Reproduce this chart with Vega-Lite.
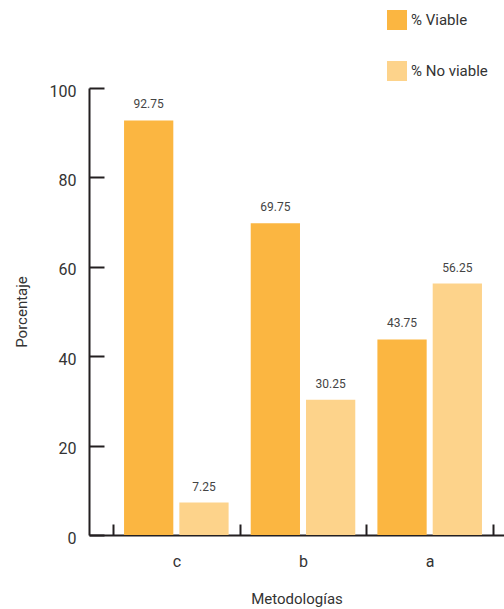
{
  "$schema": "https://vega.github.io/schema/vega-lite/v6.json",
  "width": 415,
  "height": 447,
  "autosize": {"type": "none"},
  "padding": {"left": 89, "top": 88, "right": 0, "bottom": 74},
  "background": "white",
  "config": {
    "view": {"stroke": null},
    "font": "Roboto",
    "axis": {"domainColor": "#231f20", "tickColor": "#231f20", "labelColor": "#333333", "titleColor": "#333333", "titleFontWeight": "normal", "grid": false}
  },
  "data": {
    "values": [
      {"metodologia": "c", "serie": "% Viable", "valor": 92.75},
      {"metodologia": "c", "serie": "% No viable", "valor": 7.25},
      {"metodologia": "b", "serie": "% Viable", "valor": 69.75},
      {"metodologia": "b", "serie": "% No viable", "valor": 30.25},
      {"metodologia": "a", "serie": "% Viable", "valor": 43.75},
      {"metodologia": "a", "serie": "% No viable", "valor": 56.25}
    ]
  },
  "encoding": {
    "x": {
      "field": "metodologia",
      "type": "nominal",
      "sort": ["c", "b", "a"],
      "scale": {"paddingInner": 0, "paddingOuter": 0.138, "align": 0.686},
      "axis": {
        "title": "Metodologías",
        "titleFontSize": 15,
        "titlePadding": 22,
        "labelFontSize": 16,
        "labelAngle": 0,
        "labelPadding": 29,
        "tickBand": "extent",
        "tickSize": -11,
        "tickWidth": 2,
        "domainWidth": 2
      }
    },
    "xOffset": {
      "field": "serie",
      "sort": ["% Viable", "% No viable"],
      "scale": {"paddingInner": 0.109, "paddingOuter": 0.2}
    },
    "y": {
      "field": "valor",
      "type": "quantitative",
      "scale": {"domain": [0, 100], "nice": false},
      "axis": {
        "title": "Porcentaje",
        "titleFontSize": 15,
        "titlePadding": 20,
        "labelFontSize": 16,
        "labelPadding": 28,
        "values": [0, 20, 40, 60, 80, 100],
        "tickSize": -15,
        "tickWidth": 2,
        "domainWidth": 2,
        "labelOffset": 3
      }
    }
  },
  "layer": [
    {
      "mark": {"type": "bar"},
      "encoding": {
        "color": {
          "field": "serie",
          "type": "nominal",
          "sort": ["% Viable", "% No viable"],
          "scale": {"domain": ["% Viable", "% No viable"], "range": ["#fbb641", "#fdd38b"]},
          "legend": {
            "title": null,
            "orient": "none",
            "legendX": 298,
            "legendY": -78,
            "symbolType": "square",
            "symbolSize": 400,
            "symbolStrokeWidth": 0,
            "labelFontSize": 15,
            "labelColor": "#333333",
            "labelOffset": 4,
            "rowPadding": 31
          }
        }
      }
    },
    {
      "mark": {"type": "text", "baseline": "bottom", "dy": -9, "fontSize": 12, "color": "#444444"},
      "encoding": {"text": {"field": "valor", "type": "quantitative", "format": ".2f"}}
    }
  ]
}
